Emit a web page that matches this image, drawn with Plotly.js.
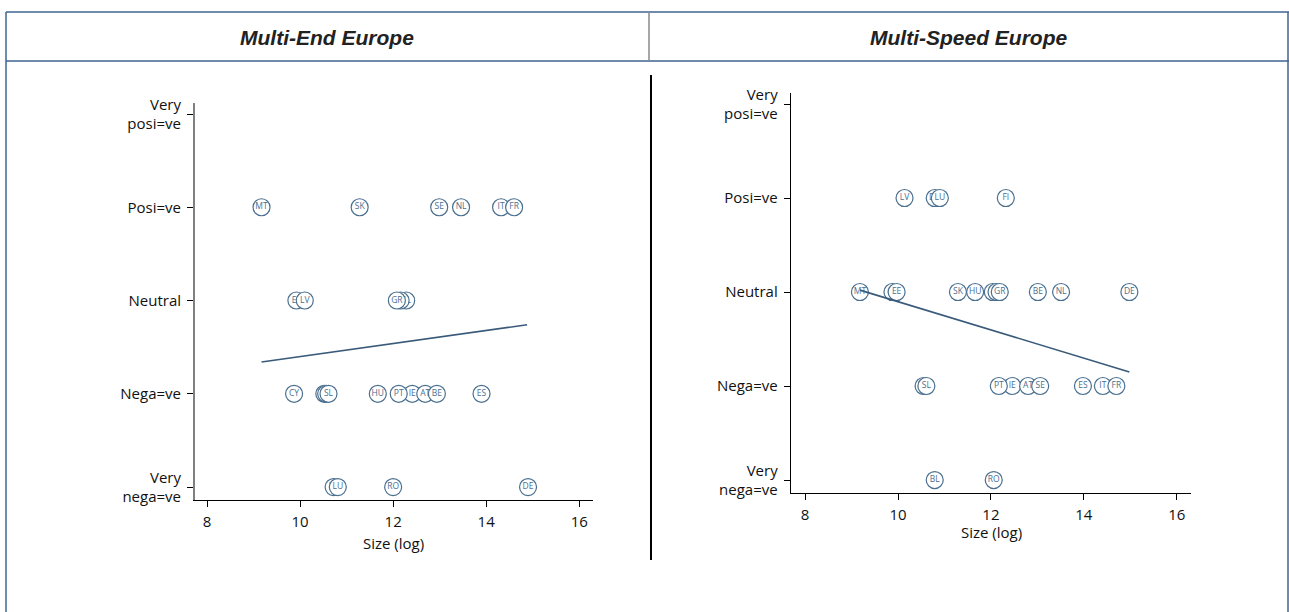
<!DOCTYPE html>
<html>
<head>
<meta charset="utf-8">
<script src="https://cdn.plot.ly/plotly-3.0.1.min.js"></script>
<style>
  html, body { margin: 0; padding: 0; background: #ffffff; }
  #chart { width: 1289px; height: 612px; }
</style>
</head>
<body>
<div id="chart"></div>
<script>
// Attitude scale (1 = very negative ... 5 = very positive)
const ratingVals = [1, 2, 3, 4, 5];
const ratingLabels = ['Very<br>nega=ve', 'Nega=ve', 'Neutral', 'Posi=ve', 'Very<br>posi=ve'];
const sizeTicks = [8, 10, 12, 14, 16];

// Multi-End Europe: country code, size (log), attitude (drawing order: later on top)
const endCodes  = ['MT', 'SK', 'SE', 'NL', 'IT', 'FR',
                   'EE', 'LV', 'PL', 'CZ', 'GR',
                   'CY', 'HR', 'LT', 'SL', 'HU', 'IE', 'PT', 'AT', 'BE', 'ES',
                   'BL', 'LU', 'RO', 'DE'];
const endSize   = [9.17, 11.28, 12.99, 13.46, 14.32, 14.60,
                   9.92, 10.10, 12.28, 12.16, 12.08,
                   9.87, 10.52, 10.56, 10.61, 11.67, 12.41, 12.12, 12.69, 12.94, 13.90,
                   10.72, 10.81, 12.00, 14.90];
const endRating = [4, 4, 4, 4, 4, 4,
                   3, 3, 3, 3, 3,
                   2, 2, 2, 2, 2, 2, 2, 2, 2, 2,
                   1, 1, 1, 1];
// Linear fit for Multi-End Europe (end points)
const endFitX = [9.17, 14.88];
const endFitY = [2.34, 2.74];

// Multi-Speed Europe
const speedCodes  = ['LV', 'DK', 'LU', 'FI',
                     'MT', 'CY', 'EE', 'SK', 'HU', 'PL', 'CZ', 'GR', 'BE', 'NL', 'DE',
                     'HR', 'SL', 'IE', 'PT', 'AT', 'SE', 'ES', 'IT', 'FR',
                     'BL', 'RO'];
const speedSize   = [10.14, 10.79, 10.90, 12.32,
                     9.18, 9.88, 9.97, 11.29, 11.66, 12.04, 12.12, 12.19, 13.01, 13.51, 14.98,
                     10.55, 10.61, 12.46, 12.17, 12.80, 13.06, 13.98, 14.41, 14.70,
                     10.79, 12.06];
const speedRating = [4, 4, 4, 4,
                     3, 3, 3, 3, 3, 3, 3, 3, 3, 3, 3,
                     2, 2, 2, 2, 2, 2, 2, 2, 2,
                     1, 1];
// Linear fit for Multi-Speed Europe (end points)
const speedFitX = [9.18, 14.98];
const speedFitY = [3.02, 2.15];

const W = 1289, H = 612;
const fx = p => p / W;
const fy = p => 1 - p / H;

const markColor = '#4a6f8f';
const fitColor = '#3a5a7a';
const tickFont = { family: '"Open Sans", sans-serif', size: 15, color: '#111111' };

function pointTraces(codes, sizes, ratings, xa, ya) {
  return codes.map((c, i) => ({
    type: 'scatter',
    mode: 'markers+text',
    x: [sizes[i]],
    y: [ratings[i]],
    text: [c],
    textposition: 'middle center',
    textfont: { family: '"Open Sans", sans-serif', size: 8.5, color: markColor },
    marker: { symbol: 'circle', size: 17, color: '#ffffff', line: { color: markColor, width: 1.2 } },
    xaxis: xa, yaxis: ya,
    cliponaxis: false,
    hoverinfo: 'skip',
    showlegend: false
  }));
}

function fitTrace(xs, ys, xa, ya) {
  return {
    type: 'scatter', mode: 'lines', x: xs, y: ys,
    line: { color: fitColor, width: 1.6 },
    xaxis: xa, yaxis: ya, hoverinfo: 'skip', showlegend: false
  };
}

const data = []
  .concat(pointTraces(endCodes, endSize, endRating, 'x', 'y'))
  .concat([fitTrace(endFitX, endFitY, 'x', 'y')])
  .concat(pointTraces(speedCodes, speedSize, speedRating, 'x2', 'y2'))
  .concat([fitTrace(speedFitX, speedFitY, 'x2', 'y2')]);

function xAxis(domain, range, anchor) {
  return {
    domain: domain, range: range, anchor: anchor,
    tickmode: 'array', tickvals: sizeTicks, ticktext: sizeTicks.map(String),
    showgrid: false, zeroline: false,
    showline: true, linecolor: '#000000', linewidth: 1,
    ticks: 'outside', ticklen: 6, tickcolor: '#000000', tickwidth: 1,
    ticklabelstandoff: 2,
    tickfont: tickFont, fixedrange: true
  };
}
function yAxis(domain, range, anchor, lineColor, lineWidth) {
  return {
    domain: domain, range: range, anchor: anchor,
    tickmode: 'array', tickvals: ratingVals, ticktext: ratingLabels,
    showgrid: false, zeroline: false,
    showline: true, linecolor: lineColor, linewidth: lineWidth,
    ticks: 'outside', ticklen: 6, tickcolor: '#000000', tickwidth: 1,
    ticklabelstandoff: 3,
    tickfont: tickFont, fixedrange: true
  };
}

const frameColor = '#3f6590';
const layout = {
  width: W, height: H,
  margin: { l: 0, r: 0, t: 0, b: 0 },
  paper_bgcolor: '#ffffff', plot_bgcolor: 'rgba(0,0,0,0)',
  showlegend: false,
  xaxis:  xAxis([fx(195), fx(592.7)], [7.74, 16.29], 'y'),
  yaxis:  yAxis([fy(500), fy(103)], [0.861, 5.118], 'x', '#808080', 2),
  xaxis2: xAxis([fx(790.7), fx(1190.7)], [7.69, 16.3], 'y2'),
  yaxis2: yAxis([fy(493), fy(93)], [0.862, 5.117], 'x2', '#000000', 1),
  shapes: [
    // table frame
    { type: 'line', xref: 'paper', yref: 'paper', x0: fx(6), x1: fx(1289), y0: fy(12), y1: fy(12), line: { color: frameColor, width: 1.5 } },
    { type: 'line', xref: 'paper', yref: 'paper', x0: fx(6), x1: fx(1289), y0: fy(61), y1: fy(61), line: { color: frameColor, width: 1.5 } },
    { type: 'line', xref: 'paper', yref: 'paper', x0: fx(6), x1: fx(6), y0: fy(12), y1: fy(612), line: { color: frameColor, width: 1.5 } },
    { type: 'line', xref: 'paper', yref: 'paper', x0: fx(1288), x1: fx(1288), y0: fy(12), y1: fy(612), line: { color: frameColor, width: 1.5 } },
    { type: 'line', xref: 'paper', yref: 'paper', x0: fx(649), x1: fx(649), y0: fy(12), y1: fy(61), line: { color: '#888888', width: 1.5 } },
    // panel separator
    { type: 'line', xref: 'paper', yref: 'paper', x0: fx(651), x1: fx(651), y0: fy(75), y1: fy(560), line: { color: '#000000', width: 2 } }
  ],
  annotations: [
    { xref: 'paper', yref: 'paper', x: fx(327), y: fy(37), text: '<b><i>Multi-End Europe</i></b>', showarrow: false,
      xanchor: 'center', yanchor: 'middle', font: { family: '"Liberation Sans", Arial, sans-serif', size: 21, color: '#222222' } },
    { xref: 'paper', yref: 'paper', x: fx(968), y: fy(37), text: '<b><i>Multi-Speed Europe</i></b>', showarrow: false,
      xanchor: 'center', yanchor: 'middle', font: { family: '"Liberation Sans", Arial, sans-serif', size: 21, color: '#222222' } },
    { xref: 'paper', yref: 'paper', x: fx(393.5), y: fy(543), text: 'Size (log)', showarrow: false,
      xanchor: 'center', yanchor: 'middle', font: tickFont },
    { xref: 'paper', yref: 'paper', x: fx(991), y: fy(532), text: 'Size (log)', showarrow: false,
      xanchor: 'center', yanchor: 'middle', font: tickFont }
  ]
};

Plotly.newPlot('chart', data, layout, { displayModeBar: false, staticPlot: true });
</script>
</body>
</html>
